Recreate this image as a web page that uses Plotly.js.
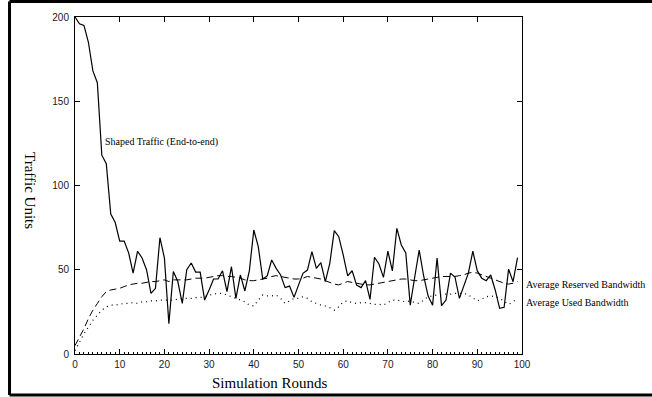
<!DOCTYPE html>
<html><head><meta charset="utf-8">
<script src="https://cdn.plot.ly/plotly-3.0.1.min.js"></script>
<style>html,body{margin:0;padding:0;background:#fff}</style>
</head><body>
<div id="chart" style="width:652px;height:397px"></div>
<script>
const rounds = [0,1,2,3,4,5,6,7,8,9,10,11,12,13,14,15,16,17,18,19,20,21,22,23,24,25,26,27,28,29,30,31,32,33,34,35,36,37,38,39,40,41,42,43,44,45,46,47,48,49,50,51,52,53,54,55,56,57,58,59,60,61,62,63,64,65,66,67,68,69,70,71,72,73,74,75,76,77,78,79,80,81,82,83,84,85,86,87,88,89,90,91,92,93,94,95,96,97,98,99];

const shapedTraffic = [200,196,195,185,168,161,118,113,83,78,67,67,60,48,61,57,50,36,39,69,57,18,49,43,30,50,54,48.6,48.6,32,38,44.5,44.5,49.4,37,51.8,33,47,37.4,49.3,73.6,63.7,44.5,46.3,55.8,50.8,46.9,39.4,40.3,33.6,40.9,47.9,49.8,60.7,50.8,54.2,42.9,53.8,73.2,69.6,58.8,46.3,49.4,40.9,39.4,43.5,32.4,57.4,53.4,45.5,61,49.3,74.6,64.7,60,29,45.7,61.7,46.3,34.4,29,57,28.7,32,48,45.7,33,40.9,48,61,49.3,45,43.5,46.9,38,27.1,27.7,50.4,42.9,57.2];

const reservedBandwidth = [5,10,15,21,26,30,34,37,38,38.5,39,40,41,41.5,42,42,42.5,43,43,43.5,44,43,44,44,44,44,44.5,45,45,45,45.5,46,46.5,46.5,46,46,45.5,45,44,43.5,43.5,44,44.5,45,46,46.5,46,45.5,45,44.5,44.5,45,46,45.5,45,44.5,43.5,42.5,41.5,41,42,43,42.5,42,41.5,41,41,41.5,42,42.5,43,43.5,44,44.5,44.5,44,43.5,43.5,44,44.5,45,45.5,46,46,46,46,46.5,47,48,48.5,48,47,46,45,44,43,42,41.5,42,43];

const usedBandwidth = [2,7,12,16,20,23,26,28,29,29,29.5,30,30,30.5,30,31,31,31.5,31.5,32,32,32,32,32.5,33,33,33,33.5,33.5,34,35,35.5,36,36,35,34,33,32,31,29,28.5,32,35,34.5,34.5,35,33,30,31.5,33,33,34,33,31,30,29,28.5,27.5,26,28,31,31.5,30.5,30,30.5,30.5,30,29.5,29.5,29,30.5,32,32,31.5,31,31.5,30.5,30,32,34,34.5,35,35.5,35.5,35.5,36,36,36,35,33,31.5,32.5,34,34.5,34,33,31,29.5,31,33];

const seriesLabels = ['Shaped Traffic (End-to-end)', 'Average Reserved Bandwidth', 'Average Used Bandwidth'];
const xTitle = 'Simulation Rounds';
const yTitle = 'Traffic Units';

const traces = [
  {x: rounds, y: shapedTraffic, type: 'scatter', mode: 'lines', name: seriesLabels[0],
   line: {color: '#000', width: 1.2}},
  {x: rounds, y: reservedBandwidth, type: 'scatter', mode: 'lines', name: seriesLabels[1],
   line: {color: '#000', width: 1, dash: '7px,4px'}},
  {x: rounds, y: usedBandwidth, type: 'scatter', mode: 'lines', name: seriesLabels[2], xaxis: 'x2',
   line: {color: '#000', width: 1.2, dash: '1px,4px'}}
];

const tickFont = {family: 'Liberation Sans, Arial, sans-serif', size: 10, color: '#1a1a1a'};
const serif = 'Liberation Serif, Times New Roman, serif';

const layout = {
  width: 652, height: 397,
  margin: {l: 75, r: 130, t: 17, b: 43, pad: 0},
  paper_bgcolor: '#fff', plot_bgcolor: '#fff',
  showlegend: false,
  xaxis: {range: [0, 100], tick0: 0, dtick: 10, ticks: 'inside', ticklen: 5, tickwidth: 1, tickcolor: '#000',
          showline: true, linecolor: '#000', linewidth: 1, mirror: false, showgrid: false, zeroline: false,
          tickfont: tickFont, ticklabelstandoff: 1,
          minor: {ticks: 'inside', ticklen: 2.5, tick0: 0, dtick: 1, tickcolor: '#000', tickwidth: 1, showgrid: false}},
  xaxis2: {overlaying: 'x', anchor: 'y', side: 'top', range: [0, 100], tick0: 0, dtick: 10, ticks: 'inside', ticklen: 5,
           tickcolor: '#000', showline: true, linecolor: '#000', linewidth: 1, showticklabels: false,
           showgrid: false, zeroline: false},
  yaxis: {range: [0, 200], tick0: 0, dtick: 50, ticks: 'inside', ticklen: 5, tickwidth: 1, tickcolor: '#000',
          showline: true, linecolor: '#000', linewidth: 1, mirror: 'ticks', showgrid: false, zeroline: false,
          tickfont: tickFont, ticklabelstandoff: 3},
  annotations: [
    {xref: 'x', yref: 'y', x: 6.2, y: 126, text: seriesLabels[0], showarrow: false, xanchor: 'left', yanchor: 'middle',
     font: {family: serif, size: 10, color: '#000'}},
    {xref: 'paper', yref: 'y', x: 1.004, y: 41.5, text: seriesLabels[1], showarrow: false, xanchor: 'left', yanchor: 'middle',
     font: {family: serif, size: 10, color: '#000'}},
    {xref: 'paper', yref: 'y', x: 1.004, y: 30.3, text: seriesLabels[2], showarrow: false, xanchor: 'left', yanchor: 'middle',
     font: {family: serif, size: 10, color: '#000'}},
    {xref: 'paper', yref: 'paper', x: 0.436, y: -0.086, text: xTitle, showarrow: false, xanchor: 'center', yanchor: 'middle',
     font: {family: serif, size: 15, color: '#000'}},
    {xref: 'paper', yref: 'paper', x: -0.1007, y: 0.4837, text: yTitle, showarrow: false, textangle: 90, xanchor: 'center', yanchor: 'middle',
     font: {family: serif, size: 15, color: '#000'}}
  ],
  shapes: [
    {type: 'line', xref: 'paper', yref: 'paper', x0: -0.1465, x1: -0.1465, y0: -0.1217, y1: 1.046,
     line: {color: '#000', width: 3}, layer: 'above'},
    {type: 'line', xref: 'paper', yref: 'paper', x0: -0.1465, x1: 1.4, y0: 1.046, y1: 1.046,
     line: {color: '#000', width: 3}, layer: 'above'},
    {type: 'line', xref: 'paper', yref: 'paper', x0: -0.1465, x1: 1.4, y0: -0.1217, y1: -0.1217,
     line: {color: '#000', width: 3}, layer: 'above'}
  ]
};

Plotly.newPlot('chart', traces, layout, {displayModeBar: false, staticPlot: true});
</script>
</body></html>
